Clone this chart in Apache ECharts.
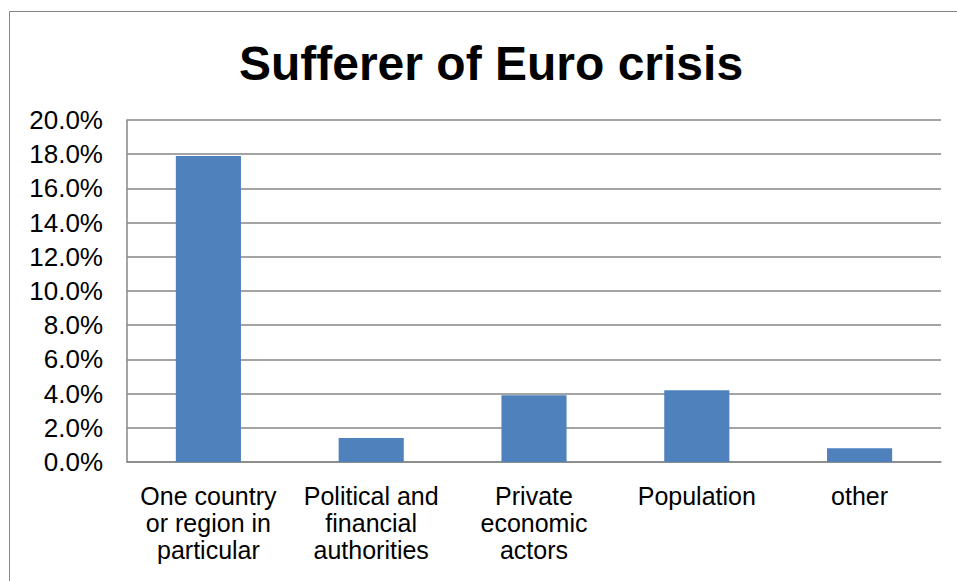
<!DOCTYPE html>
<html>
<head>
<meta charset="utf-8">
<title>Sufferer of Euro crisis</title>
<script src="https://cdn.jsdelivr.net/npm/echarts@6/dist/echarts.min.js"></script>
<style>
  html, body { margin: 0; padding: 0; background: #ffffff; }
  #chart { width: 957px; height: 581px; }
</style>
</head>
<body>
<div id="chart"></div>
<script>
// Who is seen as suffering from the Euro crisis (share of responses, %)
const categories = [
  'One country\nor region in\nparticular',
  'Political and\nfinancial\nauthorities',
  'Private\neconomic\nactors',
  'Population',
  'other'
];
const shares = [17.9, 1.4, 3.9, 4.2, 0.8];
const yTicks = { min: 0, max: 20, step: 2 };

const FONT = "'Liberation Sans', Arial, sans-serif";
const GREY = '#868686';

const chart = echarts.init(document.getElementById('chart'), null, { renderer: 'svg' });

chart.setOption({
  animation: false,
  backgroundColor: '#ffffff',
  title: {
    text: 'Sufferer of Euro crisis',
    left: 486,
    top: 34,
    textAlign: 'center',
    textStyle: { fontFamily: FONT, fontSize: 48, fontWeight: 'bold', color: '#000000' }
  },
  graphic: [{
    type: 'rect',
    shape: { x: 9.5, y: 11.5, width: 1000, height: 700 },
    style: { fill: 'none', stroke: GREY, lineWidth: 1 },
    silent: true,
    z: -1
  }],
  grid: { left: 127, right: 16, top: 120, bottom: 119 },
  xAxis: {
    type: 'category',
    data: categories,
    axisLine: { show: true, lineStyle: { color: GREY, width: 1.5 } },
    axisTick: { show: false },
    axisLabel: {
      interval: 0,
      margin: 20,
      fontFamily: FONT,
      fontSize: 25,
      lineHeight: 27,
      color: '#000000',
      align: 'center'
    }
  },
  yAxis: {
    type: 'value',
    min: yTicks.min,
    max: yTicks.max,
    interval: yTicks.step,
    axisLine: { show: true, lineStyle: { color: GREY, width: 1.5 } },
    axisTick: { show: false },
    splitLine: { show: true, lineStyle: { color: GREY, width: 1.5 } },
    axisLabel: {
      margin: 24,
      fontFamily: FONT,
      fontSize: 26,
      color: '#000000',
      formatter: v => v.toFixed(1) + '%'
    }
  },
  series: [{
    type: 'bar',
    data: shares,
    barWidth: '40%',
    itemStyle: { color: '#4F81BD' }
  }]
});
</script>
</body>
</html>
